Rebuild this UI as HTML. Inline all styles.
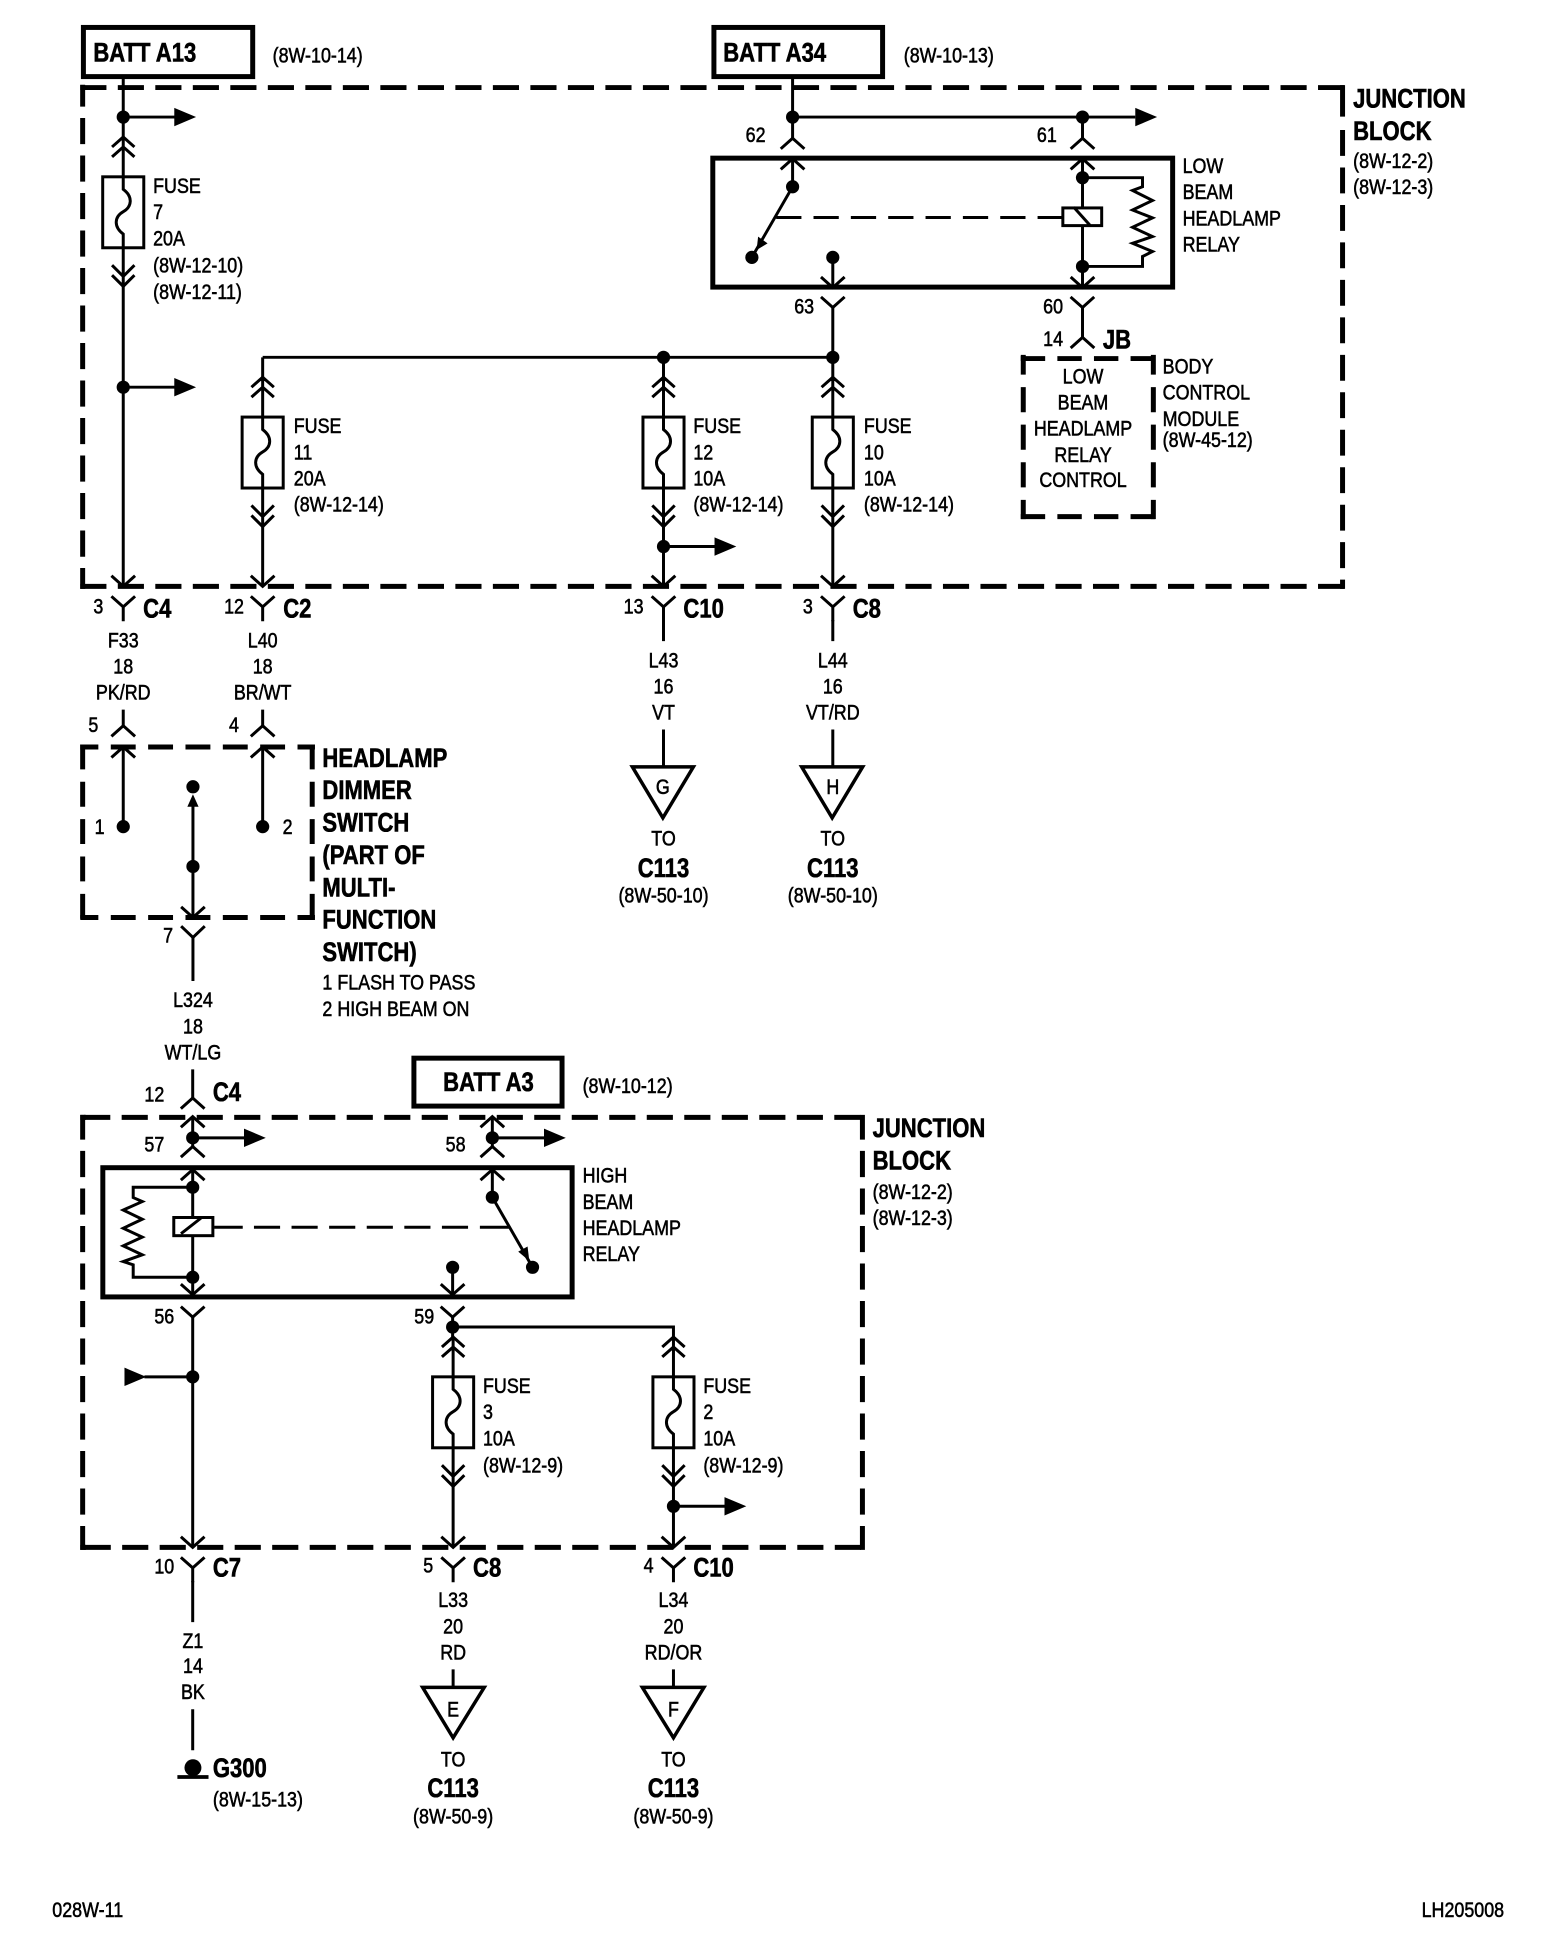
<!DOCTYPE html>
<html><head><meta charset="utf-8"><style>
html,body{margin:0;padding:0;background:#fff}
svg{display:block}
text{fill:#000;stroke:#000;font-family:"Liberation Sans",sans-serif}
.n,.c{font-size:16.9px;stroke-width:.45;transform-box:fill-box;transform:scaleX(.85)}
.b,.e{font-size:21.6px;font-weight:bold;stroke-width:.5;transform-box:fill-box;transform:scaleX(.82)}
.n,.b{transform-origin:0 0}
.c,.e{transform-origin:50% 0;text-anchor:middle}
.w{fill:none;stroke:#000;stroke-width:2.4}
.h{fill:none;stroke:#000;stroke-width:4}
.k{fill:#000;stroke:none}
</style></head><body>
<svg xmlns="http://www.w3.org/2000/svg" width="1568" height="1952" viewBox="0 0 1259.6 1568">
<rect width="1259.6" height="1568" fill="#fff"/>
<defs>
<path id="u" class="w" d="M-9.5 8.5L0 0L9.5 8.5"/>
<path id="d" class="w" d="M-9.5 -8.5L0 0L9.5 -8.5"/>
<path id="y" class="w" d="M-9.5 -8.5L0 0L9.5 -8.5M-9.5 8L0 16.5L9.5 8M0 16.5V28"/>
<circle id="o" class="k" r="5.3"/>
<polygon id="a" class="k" points="0,-7.4 17.5,0 0,7.4"/>
<g id="f"><rect class="w" x="-16.5" y="0" width="33" height="57"/>
<path class="w" d="M-9 -24L0 -32L9 -24M-9 -16L0 -24L9 -16M0 -32V10C8 16 7 24 0 28C-7 32 -8 40 0 46V88M-9 71L0 80L9 71M-9 79L0 88L9 79"/></g>
</defs>

<!-- dashed boxes -->
<g class="h" stroke-dasharray="21 9.13">
<path d="M64.5 70.3H1081"/>
<path d="M66.4 68V473" stroke-dashoffset="3.4"/>
<path d="M64.5 471H1081"/>
<path d="M1078.5 104.4V473" stroke-dasharray="20.8 9.3"/>
<path d="M67.6 897.6H695"/>
<path d="M66.4 895.6V1245" stroke-dashoffset="1.2"/>
<path d="M68 1243H695"/>
<path d="M692.8 895.6V1245" stroke-dashoffset="1.2"/>
</g>
<g class="h" stroke-dasharray="20 10">
<path d="M64.5 600H253" stroke-dashoffset="5.5"/>
<path d="M64.5 737H253" stroke-dashoffset="5.5"/>
<path d="M66.4 598V739"/>
<path d="M250.8 598V739"/>
<path d="M820 288H928" stroke-dashoffset="0" stroke-dasharray="19.6 9.8"/>
<path d="M820 415H928" stroke-dashoffset="0" stroke-dasharray="19.6 9.8"/>
<path d="M822 285V417" stroke-dashoffset="4.3" stroke-dasharray="20.2 10"/>
<path d="M926.5 285V417" stroke-dashoffset="4.3" stroke-dasharray="20.2 10"/>
</g>
<path class="h" d="M1078.5 68.3V93.7M64.5 897.6H69M64.5 1243H69"/>

<!-- heavy boxes -->
<rect class="h" x="67" y="22" width="136" height="39.5"/>
<rect class="h" x="573.5" y="22" width="135.5" height="39.5"/>
<rect class="h" x="332.5" y="850" width="119" height="38.5"/>
<rect class="h" x="572.6" y="127" width="369.4" height="103.6"/>
<rect class="h" x="82.6" y="938" width="377" height="103.8"/>

<!-- wires top block -->
<path class="w" d="M99 62V110M99 94H141M99 230V471M99 311H141
M211 287V303M211 423V471M211 287H669M533 287V303M533 423V471M533 439H575M669 247V303M669 423V471
M636.7 62V111M636.7 94H912M869.6 94V111
M636.7 127V150L604 206.7M869.6 127V166M869.6 182V214M669 207V231M869.6 214V231
M869.6 142.7H917.8V150L909.8 153L925.8 161L909.8 168.7L925.8 175L909.8 182.5L925.8 190L909.8 195.4L925.8 202L917.8 206V214H869.6
M869.6 247V271"/>
<path class="w" d="M623.5 174.7H853" stroke-dasharray="20.3 9.7"/>
<rect class="w" x="853.8" y="167" width="31.2" height="14.2"/>
<path class="w" d="M862.6 166.5L875.5 180.8"/>
<polygon class="k" points="607.8,200.8 616.6,195.5 609,190"/>

<use href="#f" x="99" y="142"/>
<use href="#f" x="211" y="335"/>
<use href="#f" x="533" y="335"/>
<use href="#f" x="669" y="335"/>
<use href="#f" x="364" y="1106"/>
<use href="#f" x="541" y="1106"/>

<use href="#o" x="99" y="94"/><use href="#a" x="140" y="94"/>
<use href="#o" x="99" y="311"/><use href="#a" x="140" y="311"/>
<use href="#o" x="636.7" y="94"/><use href="#o" x="869.6" y="94"/><use href="#a" x="912" y="94"/>
<use href="#o" x="533" y="287"/><use href="#o" x="669" y="287"/>
<use href="#o" x="533" y="439"/><use href="#a" x="574" y="439"/>
<use href="#o" x="636.7" y="150"/><use href="#o" x="604" y="206.7"/><use href="#o" x="669" y="206.7"/>
<use href="#o" x="869.6" y="142.7"/><use href="#o" x="869.6" y="214"/>

<use href="#u" x="636.7" y="111"/><use href="#u" x="869.6" y="111"/>
<use href="#u" x="636.7" y="127.5"/><use href="#u" x="869.6" y="127.5"/>
<use href="#d" x="669" y="231"/><use href="#d" x="869.6" y="231"/>
<path class="w" d="M659.5 238.5L669 247L678.5 238.5M860 238.5L869.6 247L879 238.5"/>
<use href="#u" x="869.6" y="271"/>

<use href="#y" x="99" y="471"/><use href="#y" x="211" y="471"/>
<use href="#y" x="533" y="471"/><use href="#y" x="669" y="471"/>
<path class="w" d="M533 498V515M669 498V515"/>

<!-- triangles G H -->
<path class="w" d="M533 586V616M669 586V616"/>
<path class="w" style="stroke-width:2.8" d="M508 616H557L532.5 657ZM644 616H693L668.5 657Z"/>

<!-- switch -->
<path class="w" d="M99 570V583M211 570V583M99 600V664M211 600V664M155 647V737M155 752V788"/>
<use href="#u" x="99" y="583"/><use href="#u" x="211" y="583"/>
<use href="#u" x="99" y="600"/><use href="#u" x="211" y="600"/>
<use href="#o" x="99" y="664"/><use href="#o" x="211" y="664"/>
<use href="#o" x="155" y="632"/><use href="#o" x="155" y="696"/>
<polygon class="k" points="155,638 150.5,648 159.5,648"/>
<use href="#d" x="155" y="737"/>
<path class="w" d="M145.5 744L155 753L164.5 744"/>

<!-- lower block wires -->
<path class="w" d="M154.8 859V882M154.8 897V921M154.8 914H197M395.5 897V921M395.5 914H437
M154.8 940V977M154.8 993V1040M154.8 1058V1243M154.8 1106H116
M154.8 953.7H107V962L114.3 965.2L99 972L114.3 979.4L99 986.6L114.3 993.8L99 1000.8L114.3 1008L99 1013.4L107 1016V1026H154.8
M395.5 940V961.7L427.8 1018M363.6 1018V1040M363.6 1058V1074M363.6 1066H541V1074
M172 985.8H195M385.5 985.8H409M541 1210H583
M364 1194V1243M541 1194V1243"/>
<path class="w" d="M204 985.8H380" stroke-dasharray="21 9.2"/>
<rect class="w" x="139.6" y="978" width="31.4" height="14.6"/>
<path class="w" d="M145.4 991L161.4 978.5"/>
<polygon class="k" points="425.2,1012.9 416.3,1005.4 423.8,1001.3"/>

<use href="#u" x="154.8" y="882"/>
<use href="#u" x="154.8" y="897"/><use href="#u" x="395.5" y="897"/>
<use href="#u" x="154.8" y="921"/><use href="#u" x="395.5" y="921"/>
<use href="#u" x="154.8" y="939.5"/><use href="#u" x="395.5" y="939.5"/>
<use href="#d" x="154.8" y="1040"/><use href="#d" x="363.6" y="1040"/>
<path class="w" d="M145.3 1049.6L154.8 1058L164.3 1049.6M354 1049.6L363.6 1058L373 1049.6"/>
<use href="#o" x="154.8" y="914"/><use href="#a" x="196" y="914"/>
<use href="#o" x="395.5" y="914"/><use href="#a" x="437" y="914"/>
<use href="#o" x="154.8" y="953.7"/><use href="#o" x="154.8" y="1026"/>
<use href="#o" x="395.5" y="961.7"/><use href="#o" x="427.8" y="1018"/><use href="#o" x="363.6" y="1018"/>
<use href="#o" x="363.6" y="1066"/><use href="#o" x="154.8" y="1106"/>
<use href="#a" x="100" y="1106"/>
<use href="#o" x="541" y="1210"/><use href="#a" x="582" y="1210"/>

<use href="#y" x="154.8" y="1243"/><use href="#y" x="364" y="1243"/><use href="#y" x="541" y="1243"/>
<path class="w" d="M154.8 1270V1303M154.8 1373V1406M364 1341V1356M541 1341V1356"/>
<path class="w" style="stroke-width:2.8" d="M339.5 1355.5H389L364 1396ZM516 1355.5H565.5L541 1396Z"/>
<circle class="k" cx="155" cy="1420" r="6.8"/>
<path class="w" style="stroke-width:3" d="M142.5 1427.5H167.5"/>

<!-- text top -->
<text class="b" x="75" y="49.5">BATT A13</text>
<text class="n" x="219" y="50">(8W-10-14)</text>
<text class="b" x="581" y="49.5">BATT A34</text>
<text class="n" x="726" y="50">(8W-10-13)</text>
<text class="b" x="1087" y="86.5">JUNCTION</text>
<text class="b" x="1087" y="112.5">BLOCK</text>
<text class="n" x="1087" y="135">(8W-12-2)</text>
<text class="n" x="1087" y="156">(8W-12-3)</text>
<text class="n" x="950" y="139">LOW</text>
<text class="n" x="950" y="160">BEAM</text>
<text class="n" x="950" y="181">HEADLAMP</text>
<text class="n" x="950" y="202">RELAY</text>
<text class="n" x="599" y="114">62</text>
<text class="n" x="833" y="114">61</text>
<text class="n" x="638" y="252">63</text>
<text class="n" x="838" y="252">60</text>
<text class="n" x="838" y="278">14</text>
<text class="b" x="886" y="280">JB</text>
<text class="c" x="870" y="308">LOW</text>
<text class="c" x="870" y="329">BEAM</text>
<text class="c" x="870" y="350">HEADLAMP</text>
<text class="c" x="870" y="371">RELAY</text>
<text class="c" x="870" y="391">CONTROL</text>
<text class="n" x="934" y="300">BODY</text>
<text class="n" x="934" y="321">CONTROL</text>
<text class="n" x="934" y="342">MODULE</text>
<text class="n" x="934" y="359">(8W-45-12)</text>

<text class="n" x="123" y="155">FUSE</text>
<text class="n" x="123" y="176">7</text>
<text class="n" x="123" y="197">20A</text>
<text class="n" x="123" y="219">(8W-12-10)</text>
<text class="n" x="123" y="240">(8W-12-11)</text>
<text class="n" x="236" y="348">FUSE</text>
<text class="n" x="236" y="369">11</text>
<text class="n" x="236" y="390">20A</text>
<text class="n" x="236" y="411">(8W-12-14)</text>
<text class="n" x="557" y="348">FUSE</text>
<text class="n" x="557" y="369">12</text>
<text class="n" x="557" y="390">10A</text>
<text class="n" x="557" y="411">(8W-12-14)</text>
<text class="n" x="694" y="348">FUSE</text>
<text class="n" x="694" y="369">10</text>
<text class="n" x="694" y="390">10A</text>
<text class="n" x="694" y="411">(8W-12-14)</text>

<text class="n" x="75" y="493">3</text>
<text class="b" x="115" y="496">C4</text>
<text class="n" x="180" y="493">12</text>
<text class="b" x="227.5" y="496">C2</text>
<text class="n" x="501" y="493">13</text>
<text class="b" x="549" y="496">C10</text>
<text class="n" x="645" y="493">3</text>
<text class="b" x="685" y="496">C8</text>

<text class="c" x="99" y="520">F33</text>
<text class="c" x="99" y="541">18</text>
<text class="c" x="99" y="562">PK/RD</text>
<text class="c" x="211" y="520">L40</text>
<text class="c" x="211" y="541">18</text>
<text class="c" x="211" y="562">BR/WT</text>
<text class="c" x="533" y="536">L43</text>
<text class="c" x="533" y="557">16</text>
<text class="c" x="533" y="578">VT</text>
<text class="c" x="669" y="536">L44</text>
<text class="c" x="669" y="557">16</text>
<text class="c" x="669" y="578">VT/RD</text>
<text class="c" x="532.5" y="638">G</text>
<text class="c" x="669" y="638">H</text>
<text class="c" x="533" y="679">TO</text>
<text class="e" x="533" y="704.5">C113</text>
<text class="c" x="533" y="725">(8W-50-10)</text>
<text class="c" x="669" y="679">TO</text>
<text class="e" x="669" y="704.5">C113</text>
<text class="c" x="669" y="725">(8W-50-10)</text>

<text class="n" x="71" y="588">5</text>
<text class="n" x="184" y="588">4</text>
<text class="n" x="76" y="670">1</text>
<text class="n" x="227" y="670">2</text>
<text class="n" x="131" y="757">7</text>
<text class="b" x="259" y="616">HEADLAMP</text>
<text class="b" x="259" y="642">DIMMER</text>
<text class="b" x="259" y="668">SWITCH</text>
<text class="b" x="259" y="694">(PART OF</text>
<text class="b" x="259" y="720">MULTI-</text>
<text class="b" x="259" y="746">FUNCTION</text>
<text class="b" x="259" y="772">SWITCH)</text>
<text class="n" x="259" y="795">1 FLASH TO PASS</text>
<text class="n" x="259" y="816">2 HIGH BEAM ON</text>
<text class="c" x="155" y="809">L324</text>
<text class="c" x="155" y="830">18</text>
<text class="c" x="155" y="851">WT/LG</text>
<text class="n" x="116" y="885">12</text>
<text class="b" x="171" y="884.5">C4</text>

<!-- text lower -->
<text class="b" x="356" y="876.5">BATT A3</text>
<text class="n" x="468" y="878">(8W-10-12)</text>
<text class="b" x="701" y="913.5">JUNCTION</text>
<text class="b" x="701" y="939.5">BLOCK</text>
<text class="n" x="701" y="963">(8W-12-2)</text>
<text class="n" x="701" y="984">(8W-12-3)</text>
<text class="n" x="468" y="950">HIGH</text>
<text class="n" x="468" y="971">BEAM</text>
<text class="n" x="468" y="992">HEADLAMP</text>
<text class="n" x="468" y="1013">RELAY</text>
<text class="n" x="116" y="925">57</text>
<text class="n" x="358" y="925">58</text>
<text class="n" x="124" y="1063">56</text>
<text class="n" x="332.8" y="1063">59</text>
<text class="n" x="388" y="1119">FUSE</text>
<text class="n" x="388" y="1140">3</text>
<text class="n" x="388" y="1161">10A</text>
<text class="n" x="388" y="1183">(8W-12-9)</text>
<text class="n" x="565" y="1119">FUSE</text>
<text class="n" x="565" y="1140">2</text>
<text class="n" x="565" y="1161">10A</text>
<text class="n" x="565" y="1183">(8W-12-9)</text>

<text class="n" x="124" y="1264">10</text>
<text class="b" x="171" y="1266.5">C7</text>
<text class="n" x="340" y="1263">5</text>
<text class="b" x="380" y="1266.5">C8</text>
<text class="n" x="517" y="1263">4</text>
<text class="b" x="557" y="1266.5">C10</text>

<text class="c" x="155" y="1324">Z1</text>
<text class="c" x="155" y="1344">14</text>
<text class="c" x="155" y="1365">BK</text>
<text class="b" x="171" y="1427.5">G300</text>
<text class="n" x="171" y="1451">(8W-15-13)</text>
<text class="c" x="364" y="1291">L33</text>
<text class="c" x="364" y="1312">20</text>
<text class="c" x="364" y="1333">RD</text>
<text class="c" x="541" y="1291">L34</text>
<text class="c" x="541" y="1312">20</text>
<text class="c" x="541" y="1333">RD/OR</text>
<text class="c" x="364" y="1379">E</text>
<text class="c" x="541" y="1379">F</text>
<text class="c" x="364" y="1419">TO</text>
<text class="e" x="364" y="1443.5">C113</text>
<text class="c" x="364" y="1465">(8W-50-9)</text>
<text class="c" x="541" y="1419">TO</text>
<text class="e" x="541" y="1443.5">C113</text>
<text class="c" x="541" y="1465">(8W-50-9)</text>

<text class="n" x="42" y="1540">028W-11</text>
<text class="n" x="1142" y="1540">LH205008</text>
</svg>
</body></html>
